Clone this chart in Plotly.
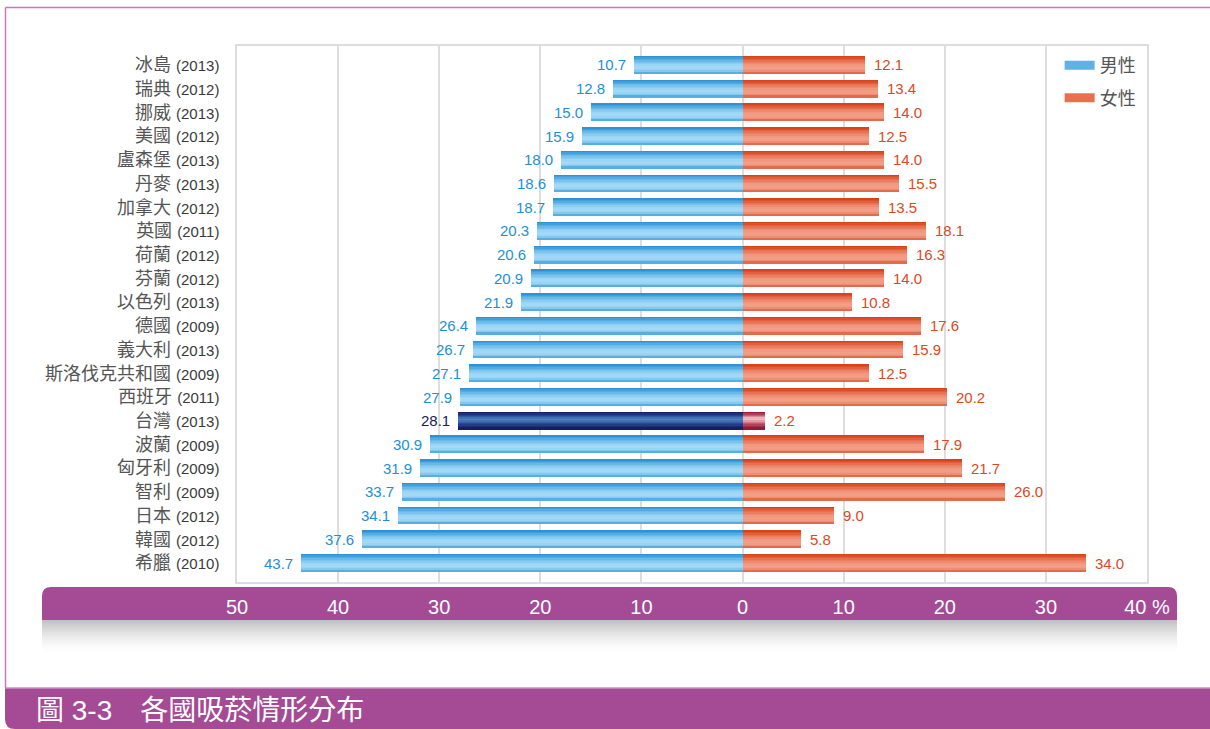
import plotly.graph_objects as go

# data (percent of smokers)
countries = ['冰島', '瑞典', '挪威', '美國', '盧森堡', '丹麥', '加拿大', '英國', '荷蘭', '芬蘭', '以色列',
             '德國', '義大利', '斯洛伐克共和國', '西班牙', '台灣', '波蘭', '匈牙利', '智利', '日本', '韓國', '希臘']
years = [2013, 2012, 2013, 2012, 2013, 2013, 2012, 2011, 2012, 2012, 2013,
         2009, 2013, 2009, 2011, 2013, 2009, 2009, 2009, 2012, 2012, 2010]
male = [10.7, 12.8, 15.0, 15.9, 18.0, 18.6, 18.7, 20.3, 20.6, 20.9, 21.9,
        26.4, 26.7, 27.1, 27.9, 28.1, 30.9, 31.9, 33.7, 34.1, 37.6, 43.7]
female = [12.1, 13.4, 14.0, 12.5, 14.0, 15.5, 13.5, 18.1, 16.3, 14.0, 10.8,
          17.6, 15.9, 12.5, 20.2, 2.2, 17.9, 21.7, 26.0, 9.0, 5.8, 34.0]
highlight = '台灣'

x_ticks = [-50, -40, -30, -20, -10, 0, 10, 20, 30, 40]
x_ticktext = ['50', '40', '30', '20', '10', '0', '10', '20', '30', '40 %']

PURPLE = '#a54a94'
FONT = 'Liberation Sans, Arial, Noto Sans CJK TC'

# vertical gradients (top -> bottom) used to fake the glossy bars
blue_stops = [(0, '#2a8ad2'), (0.12, '#3f9edc'), (0.3, '#6cbbe9'), (0.55, '#9dd6f4'),
              (0.75, '#a5daf6'), (0.9, '#7cc4ec'), (1, '#3f9fdc')]
red_stops = [(0, '#d43d17'), (0.12, '#dc4e26'), (0.3, '#e77355'), (0.55, '#f0987f'),
             (0.75, '#f2a18b'), (0.9, '#ec8a70'), (1, '#dc5530')]
navy_stops = [(0, '#13165f'), (0.25, '#2b4c93'), (0.45, '#4c84c4'), (0.7, '#2b4c93'), (1, '#13165f')]
wine_stops = [(0, '#8c0f2c'), (0.2, '#c45a6c'), (0.42, '#f7c9cf'), (0.7, '#c45a6c'), (1, '#8c0f2c')]


def hex2rgb(h):
    h = h.lstrip('#')
    return [int(h[i:i + 2], 16) for i in (0, 2, 4)]


def grad(stops, t):
    for (t0, c0), (t1, c1) in zip(stops[:-1], stops[1:]):
        if t0 <= t <= t1:
            a = (t - t0) / (t1 - t0) if t1 > t0 else 0
            r = [round(x0 + (x1 - x0) * a) for x0, x1 in zip(hex2rgb(c0), hex2rgb(c1))]
            return 'rgb({},{},{})'.format(*r)
    return stops[-1][1]


fig = go.Figure()

W = 0.72
N = 12
neg_male = [-v for v in male]

for vals, stops, hstops in [(neg_male, blue_stops, navy_stops), (female, red_stops, wine_stops)]:
    base_col = [hstops[0][1] if c == highlight else stops[0][1] for c in countries]
    fig.add_trace(go.Bar(x=vals, y=countries, orientation='h', width=W, offset=-W / 2,
                         marker=dict(color=base_col, line_width=0), showlegend=False, hoverinfo='skip'))
    for i in range(N):
        t = (i + 0.5) / N
        cols = [grad(hstops, t) if c == highlight else grad(stops, t) for c in countries]
        fig.add_trace(go.Bar(x=vals, y=countries, orientation='h',
                             width=W / N * 1.25, offset=-W / 2 + i * W / N,
                             marker=dict(color=cols, line_width=0), showlegend=False, hoverinfo='skip'))

# legend entries
fig.add_trace(go.Scatter(x=[None], y=[None], mode='lines', name='男性', legendgroup='m',
                         line=dict(color='#5fb2e6', width=9)))
fig.add_trace(go.Scatter(x=[None], y=[None], mode='lines', name='女性', legendgroup='f',
                         line=dict(color='#e8704f', width=9)))

# value labels
for c, m, f in zip(countries, male, female):
    fig.add_annotation(x=-m, y=c, text=f'{m:.1f}', showarrow=False, xanchor='right', xshift=-6,
                       font=dict(family=FONT, size=15, color='#1a1a5e' if c == highlight else '#1e8fd6'))
    fig.add_annotation(x=f, y=c, text=f'{f:.1f}', showarrow=False, xanchor='left', xshift=7,
                       font=dict(family=FONT, size=15, color='#e0481c'))

# helpers: pixel -> paper coordinates
L, R, T, B = 237, 1147, 46, 582


def px(x):
    return (x - L) / (R - L)


def py(y):
    return (B - y) / (B - T)


shapes = []
# tick band with rounded top corners
bx0, bx1, by0, by1, rr = 42, 1177, 587, 620, 9
path = (f'M {px(bx0)},{py(by1)} L {px(bx0)},{py(by0 + rr)} Q {px(bx0)},{py(by0)} {px(bx0 + rr)},{py(by0)} '
        f'L {px(bx1 - rr)},{py(by0)} Q {px(bx1)},{py(by0)} {px(bx1)},{py(by0 + rr)} L {px(bx1)},{py(by1)} Z')
shapes.append(dict(type='path', xref='paper', yref='paper', path=path, fillcolor=PURPLE,
                   line_width=0, layer='below'))
# soft shadow under the band
for k in range(16):
    y0 = by1 + k * 2
    op = 0.42 * (1 - k / 16) ** 1.6
    shapes.append(dict(type='rect', xref='paper', yref='paper', x0=px(bx0), x1=px(bx1),
                       y0=py(y0), y1=py(y0 + 2), fillcolor=f'rgba(110,110,110,{op:.3f})',
                       line_width=0, layer='below'))
# caption band at the bottom
cy0, cy1, cr = 688, 729, 10
path2 = (f'M {px(5)},{py(cy0)} L {px(1210)},{py(cy0)} L {px(1210)},{py(cy1)} '
         f'L {px(5 + cr)},{py(cy1)} Q {px(5)},{py(cy1)} {px(5)},{py(cy1 - cr)} Z')
shapes.append(dict(type='path', xref='paper', yref='paper', path=path2, fillcolor=PURPLE,
                   line_width=0, layer='below'))
shapes.append(dict(type='line', xref='paper', yref='paper', x0=px(5), x1=px(1210), y0=py(cy0), y1=py(cy0),
                   line=dict(color='#c990c0', width=1.5), layer='below'))
# thin frame top and left
shapes.append(dict(type='line', xref='paper', yref='paper', x0=px(5.5), x1=px(1210), y0=py(7.5), y1=py(7.5),
                   line=dict(color='#c47cbc', width=1.5), layer='below'))
shapes.append(dict(type='line', xref='paper', yref='paper', x0=px(5.5), x1=px(5.5), y0=py(7.5), y1=py(cy0),
                   line=dict(color='#c47cbc', width=1.5), layer='below'))

fig.add_annotation(xref='paper', yref='paper', x=px(34), y=py(710), xanchor='left', yanchor='middle',
                   text='圖 3-3　各國吸菸情形分布', showarrow=False,
                   font=dict(family=FONT, size=28, color='white'))

ticktext_y = [f"{c} <span style='font-size:15px;color:#3a3a3a'>({y})</span>" for c, y in zip(countries, years)]

fig.update_layout(
    width=1210, height=729,
    margin=dict(l=L, r=1210 - R, t=T, b=729 - B),
    barmode='overlay',
    bargap=0,
    paper_bgcolor='white', plot_bgcolor='white',
    font=dict(family=FONT, color='#555555'),
    shapes=shapes,
    showlegend=True,
    legend=dict(x=0.993, xanchor='right', y=0.998, yanchor='top', bgcolor='rgba(0,0,0,0)',
                font=dict(size=18, color='#555555'), traceorder='grouped', tracegroupgap=6,
                itemwidth=30),
    xaxis=dict(range=[-50, 40], tickvals=x_ticks, ticktext=x_ticktext, showgrid=True,
               gridcolor='#dddddd', gridwidth=2, zeroline=False, showline=True, mirror=True,
               linecolor='#dddddd', linewidth=2, ticks='', ticklabelstandoff=6,
               tickfont=dict(family=FONT, size=20, color='white')),
    yaxis=dict(type='category', categoryorder='array', categoryarray=countries,
               range=[len(countries) - 1 + 0.8, -0.8], tickvals=countries, ticktext=ticktext_y,
               showgrid=False, zeroline=False, showline=True, mirror=True,
               linecolor='#dddddd', linewidth=2, ticks='', ticklabelstandoff=12,
               tickfont=dict(family=FONT, size=18, color='#555555')),
)

fig.write_html('out.html', config={'displayModeBar': False},
               post_script="document.body.style.margin='0';document.body.style.overflow='hidden';")
